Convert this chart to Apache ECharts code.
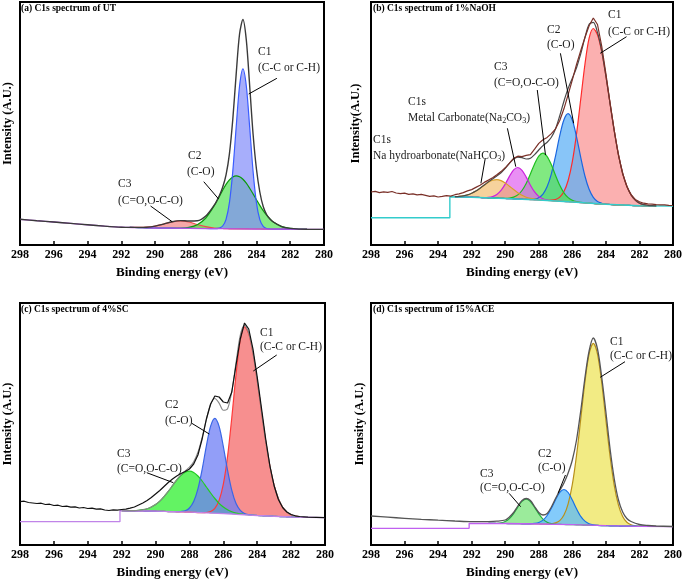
<!DOCTYPE html>
<html><head><meta charset="utf-8">
<script src="https://cdn.jsdelivr.net/npm/echarts@6/dist/echarts.min.js"></script>
<style>html,body{margin:0;padding:0;background:#fff}#c{width:685px;height:583px}</style>
</head><body><div id="c"></div>
<script>
// ---------- shared ----------
const xTicks = [298,296,294,292,290,288,286,284,282,280];

// ---------- Panel (a) UT ----------
const eVGridA = [291.5,291,290.5,290,289.5,289,288.5,288,287.5,287,286.5,286.2,286,285.8,285.6,285.4,285.2,285,284.8,284.6,284.4,284.2,284,283.8,283.6,283.4,283.2,283,282.5,282,281.5,281];
const bgGridA = [17.6,17.4,17.2,17.0,16.9,16.8,16.7,16.6,16.5,16.5,16.4,16.3,16.3,16.3,16.2,16.2,16.2,16.1,16.1,16.1,16.0,16.0,16.0,16.0,15.9,15.9,15.9,15.9,15.8,15.8,15.7,15.7];
const peakA_C1 = [0,0,0,0,0,0,0,0,0,0,0,0.6,2.7,9.4,26.1,57.7,101.7,142.9,160,142.9,101.7,57.7,26.1,9.4,2.7,0.6,0.1,0,0,0,0,0];
const peakA_C2 = [0,0,0,0,0,0,0.2,1.0,3.7,10.5,22.8,32.1,38.5,44.3,48.9,51.9,53,52.1,49.6,45.7,40.7,35.1,29.3,23.6,18.4,13.9,10.2,7.2,2.6,0.8,0.2,0];
const peakA_C3 = [0,0.2,0.6,1.9,4.0,6.4,7.5,6.4,4.0,1.9,0.6,0.3,0.2,0.1,0,0,0,0,0,0,0,0,0,0,0,0,0,0,0,0,0,0];
const bgLineA = [[298,25.7],[297,24.3],[296,23.0],[295,21.6],[294,20.2],[293,18.9],[292,17.8],[291,17.4],[290,17.0],[288,16.6],[286,16.3],[284,16.0],[282,15.8],[280,15.6]];
const envA = [[298,25.7],[297,24.3],[296,23.0],[295,21.6],[294,20.2],[293,18.9],[292,17.8],[291.5,17.6],[291,17.6],[290.5,17.8],[290,18.9],[289.5,20.9],[289,23.2],[288.5,24.4],[288,24.0],[287.5,24.2],[287,28.9],[286.5,39.8],[286.2,49.3],[286,57.7],[285.8,70.1],[285.6,91.2],[285.4,125.8],[285.2,170.9],[285,211],[284.8,225.5],[284.6,205],[284.4,159],[284.2,111],[284,76],[283.8,53],[283.6,38.5],[283.4,30.5],[283.2,26],[283,23],[282.5,18.4],[282,16.6],[281.5,15.9],[281,15.7],[280,15.6]];

// ---------- Panel (b) 1%NaOH ----------
const eVGridB = [293,292.75,292.5,292.25,292,291.75,291.5,291.25,291,290.75,290.5,290.25,290,289.75,289.5,289.25,289,288.75,288.5,288.25,288,287.75,287.5,287.25,287,286.75,286.5,286.25,286,285.75,285.5,285.25,285,284.75,284.5,284.25,284,283.75,283.5,283.25,283,282.75,282.5,282.25,282,281.75,281.5,281.25,281];
const bgGridB = [48.2,48.1,48.0,47.9,47.8,47.6,47.5,47.3,47.2,47.0,46.9,46.7,46.5,46.3,46.2,46.0,45.8,45.6,45.4,45.2,45.0,44.8,44.5,44.3,44.0,43.8,43.5,43.3,43.0,42.7,42.4,42.1,41.8,41.5,41.2,41.0,40.7,40.5,40.2,40.0,39.8,39.7,39.5,39.4,39.3,39.2,39.2,39.1,39.1];
const peakB_NaHCO3 = [0.2,0.6,1.2,2.2,3.9,6.3,9.3,12.5,15.6,17.7,18.5,17.7,15.6,12.5,9.3,6.3,3.9,2.2,1.2,0.6,0.2,0.1,0,0,0,0,0,0,0,0,0,0,0,0,0,0,0,0,0,0,0,0,0,0,0,0,0,0,0];
const peakB_Na2CO3 = [0,0,0,0,0,0,0,0.1,0.4,1.4,3.6,7.9,14.4,22.3,28.9,31.5,28.9,22.3,14.4,7.9,3.6,1.4,0.4,0.1,0,0,0,0,0,0,0,0,0,0,0,0,0,0,0,0,0,0,0,0,0,0,0,0,0];
const peakB_C3 = [0,0,0,0,0,0,0,0,0,0,0,0,0.2,0.6,1.7,4.1,8.7,15.9,25.6,35.9,43.9,47,43.9,35.9,25.6,15.9,8.7,4.1,1.7,0.6,0.2,0,0,0,0,0,0,0,0,0,0,0,0,0,0,0,0,0,0];
const peakB_C2 = [0,0,0,0,0,0,0,0,0,0,0,0,0,0,0,0,0,0,0.2,0.8,2.3,6.1,13.9,26.9,45.2,65.5,81.7,88,81.7,65.5,45.2,26.9,13.9,6.1,2.3,0.8,0.2,0,0,0,0,0,0,0,0,0,0,0,0];
const peakB_C1 = [0,0,0,0,0,0,0,0,0,0,0,0,0,0,0,0,0,0,0,0,0,0,0.1,0.5,1.5,4.1,9.9,21.2,40.4,68.5,103.3,138.4,165.0,175,169.1,152.4,128.1,100.6,73.7,50.3,32.1,19.1,10.6,5.5,2.6,1.2,0.5,0.2,0.1];
const fitB = [48.4,48.7,49.2,50.1,51.7,53.9,56.8,59.9,63.2,66.1,69.0,72.3,76.7,81.7,86.1,87.9,87.3,86.0,86.8,90.4,95.0,99.4,102.8,107.7,116.3,129.3,143.8,156.6,166.8,177.3,191.1,207.4,220.7,222.6,212.6,194.2,169.0,141.1,113.9,90.3,71.9,58.8,50.1,44.9,41.9,40.4,39.7,39.3,39.2];
const bgLineB = [[298,27.3],[293.3,27.3],[293.3,48.3],[292,47.8],[290,46.5],[288,45],[286,43],[284,40.7],[282,39.3],[280,39]];
const rawB = [[298,53],[297.75,53.6],[297.5,52.4],[297.25,53.1],[297,52.6],[296.75,53.5],[296.5,52],[296.25,51.4],[296,51.9],[295.75,50.6],[295.5,51.2],[295.25,50.1],[295,50.6],[294.75,49.7],[294.5,48.6],[294.25,49.2],[294,48],[293.75,48.6],[293.5,49.4],[293.25,48.9],[293,50.3],[292.75,51.2],[292.5,52.4],[292.25,54.1],[292,55.4],[291.75,57.6],[291.5,59.8],[291.25,62.6],[291,64.9],[290.75,67.3],[290.5,70.2],[290.25,73.4],[290,77.2],[289.75,81.8],[289.5,86.6],[289.25,88.8],[289,88.4],[288.75,89.6],[288.5,90.3],[288.25,95.8],[288,101.6],[287.75,105.2],[287.5,107.6],[287.25,111.4],[287,116.2],[286.75,124.5],[286.5,136.2],[286.25,150.4],[286,165.2],[285.75,180.6],[285.5,194.2],[285.25,207.5],[285,219.2],[284.75,227],[284.5,220.5],[284.25,199],[284,171.5],[283.75,142],[283.5,114.5],[283.25,89.6],[283,71],[282.75,58.5],[282.5,50.4],[282.25,45.6],[282,43.2],[281.75,41.8],[281.5,41.2],[281.25,40.9],[281,40.4],[280.75,40.1],[280.5,40.2],[280.25,39.6],[280,39.5]];

// ---------- Panel (c) 4%SC ----------
const eVGridC = [292,291.75,291.5,291.25,291,290.75,290.5,290.25,290,289.75,289.5,289.25,289,288.75,288.5,288.25,288,287.75,287.5,287.25,287,286.75,286.5,286.25,286,285.75,285.5,285.25,285,284.75,284.5,284.25,284,283.75,283.5,283.25,283,282.75,282.5,282.25,282,281.75,281.5];
const bgGridC = [34.3,34.2,34.2,34.1,34.0,34.0,33.9,33.9,33.8,33.7,33.6,33.4,33.3,33.2,33.1,32.9,32.8,32.6,32.4,32.2,32.0,31.8,31.7,31.5,31.3,31.1,30.9,30.6,30.4,30.2,30.0,29.7,29.5,29.3,29.1,28.9,28.7,28.5,28.4,28.2,28.0,27.9,27.8];
const peakC_C3 = [0,0.1,0.2,0.3,0.7,1.3,2.4,4.1,6.7,10.2,14.8,20.2,26.0,31.8,36.6,39.9,41,39.9,36.6,31.8,26.0,20.2,14.8,10.2,6.7,4.1,2.4,1.3,0.7,0.3,0.2,0.1,0,0,0,0,0,0,0,0,0,0,0];
const peakC_C2 = [0,0,0,0,0,0,0,0,0,0,0,0,0,0.1,0.4,1.3,4.2,10.8,23.7,43.5,67.2,87.1,95,87.1,67.2,43.5,23.7,10.8,4.2,1.3,0.4,0.1,0,0,0,0,0,0,0,0,0,0,0];
const peakC_C1 = [0,0,0,0,0,0,0,0,0,0,0,0,0,0,0,0,0,0,0,0.1,0.5,1.7,5.0,13.1,29.5,57.5,96.6,139.9,174.7,188,181.2,162.2,134.8,104.2,74.7,49.8,30.8,17.7,9.4,4.7,2.2,0.9,0.4];
const fitC = [34.3,34.3,34.4,34.4,34.7,35.3,36.3,38.0,40.5,43.9,48.4,53.6,59.3,65.1,70.1,74.1,78.0,83.3,92.7,107.6,125.7,140.8,146.5,141.9,134.7,136.2,153.6,182.6,210.0,219.8,211.8,192.1,164.3,133.5,103.8,78.7,59.5,46.2,37.8,32.9,30.2,28.8,28.2];
const bgLineC = [[298,23.3],[292.1,23.3],[292.1,34.3],[290,33.8],[288,32.8],[286,31.3],[284,29.5],[282,28],[280,27.3]];
const rawC = [[298,43.3],[297.75,43.8],[297.5,42.5],[297.25,42.0],[297,41.5],[296.75,41.8],[296.5,40.5],[296.25,40.8],[296,39.5],[295.75,39.8],[295.5,38.5],[295.25,38.9],[295,37.8],[294.75,38.2],[294.5,37.0],[294.25,37.5],[294,36.5],[293.75,36.8],[293.5,35.8],[293.25,36.2],[293,35.0],[292.75,34.5],[292.5,35.2],[292.25,34.8],[292,35.5],[291.75,35.8],[291.5,36.8],[291.25,38.0],[291,40.0],[290.75,42.0],[290.5,44.5],[290.25,47.5],[290,51],[289.75,54.5],[289.5,58.5],[289.25,62.5],[289,66],[288.75,69],[288.5,71.5],[288.25,73.5],[288,76],[287.75,81],[287.5,90],[287.25,106],[287,126],[286.75,141],[286.5,149],[286.25,148],[286,143],[285.75,142],[285.5,153],[285.25,180],[285,206],[284.75,222],[284.5,216],[284.25,196],[284,168],[283.75,137],[283.5,106],[283.25,79],[283,59],[282.75,45.5],[282.5,37.5],[282.25,33],[282,30.5],[281.75,29.2],[281.5,28.5],[281.25,28.2],[281,27.9],[280.5,27.6],[280,27.3]];

// ---------- Panel (d) 15%ACE ----------
const eVGridD = [291,290.75,290.5,290.25,290,289.75,289.5,289.25,289,288.75,288.5,288.25,288,287.75,287.5,287.25,287,286.75,286.5,286.25,286,285.75,285.5,285.25,285,284.75,284.5,284.25,284,283.75,283.5,283.25,283,282.75,282.5,282.25,282,281.75,281.5];
const bgGridD = [21.6,21.6,21.5,21.5,21.5,21.4,21.3,21.3,21.2,21.2,21.1,21.1,21.0,20.9,20.8,20.7,20.7,20.6,20.5,20.4,20.3,20.2,20.0,19.9,19.8,19.7,19.6,19.4,19.3,19.2,19.1,19.0,18.9,18.9,18.8,18.8,18.7,18.7,18.6];
const peakD_C3 = [0,0,0.2,0.7,2.0,5.0,10.1,16.6,22.4,24.7,22.4,16.6,10.1,5.0,2.0,0.7,0.2,0,0,0,0,0,0,0,0,0,0,0,0,0,0,0,0,0,0,0,0,0,0];
const peakD_C2 = [0,0,0,0,0,0,0,0,0,0,0.1,0.5,1.5,4.0,8.7,16.0,24.7,32.1,35,32.1,24.7,16.0,8.7,4.0,1.5,0.5,0.1,0,0,0,0,0,0,0,0,0,0,0,0];
const peakD_C1 = [0,0,0,0,0,0,0,0,0,0,0,0,0,0,0.1,0.4,1.4,3.8,9.5,20.8,40.3,69.4,105.8,143.1,171.4,182,171.4,143.1,105.8,69.4,40.3,20.8,9.5,3.8,1.4,0.4,0.1,0,0];
const bgLineD = [[298,16.7],[292.15,16.7],[292.15,21.7],[290,21.5],[288,21],[286,20.3],[284,19.3],[282,18.7],[280,18.3]];
const envD = [[298,29],[297,27.8],[296,26.7],[295,25.7],[294,24.8],[293,24],[292,23.3],[291,23.4],[290.5,23.8],[290,25],[289.75,28],[289.5,32.5],[289.25,39],[289,44.5],[288.75,46.5],[288.5,44.5],[288.25,38.5],[288,32.5],[287.75,30],[287.5,31.5],[287.25,38],[287,46.5],[286.75,54.5],[286.5,62],[286.25,72],[286,85],[285.75,105],[285.5,134],[285.25,167],[285,194],[284.75,207],[284.5,196],[284.25,168],[284,133],[283.75,96],[283.5,66],[283.25,45],[283,33],[282.75,26.5],[282.5,23.5],[282,20.5],[281.5,19.5],[281,19],[280,18.5]];

// ---------- layout ----------
const SERIF = 'Liberation Serif';
const panels = [
  {left:19, top:2, width:305, height:243, ymax:243, yname:'Intensity (A.U.)', ygap:6},
  {left:371, top:2, width:304, height:243, ymax:243, yname:'Intensity(A.U.)', ygap:9},
  {left:20, top:303, width:305, height:242, ymax:242, yname:'Intensity (A.U.)', ygap:6},
  {left:371, top:303, width:304, height:242, ymax:242, yname:'Intensity (A.U.)', ygap:5}
];

const grids = panels.map(p => ({left:p.left, top:p.top, width:p.width, height:p.height, show:true, borderColor:'#000', borderWidth:2, backgroundColor:'transparent'}));
const xAxes = panels.map((p,i) => ({
  gridIndex:i, type:'value', min:280, max:298, interval:2, inverse:true,
  axisLine:{show:false},
  axisTick:{show:true, inside:true, length:4, lineStyle:{color:'#000', width:1.5}},
  axisLabel:{color:'#000', fontFamily:SERIF, fontWeight:'bold', fontSize:12, margin:4},
  splitLine:{show:false},
  name:'Binding energy (eV)', nameLocation:'middle', nameGap:21,
  nameTextStyle:{color:'#000', fontFamily:SERIF, fontWeight:'bold', fontSize:13}
}));
const yAxes = panels.map((p,i) => ({
  gridIndex:i, type:'value', min:0, max:p.ymax,
  axisLine:{show:false}, axisTick:{show:false}, axisLabel:{show:false}, splitLine:{show:false},
  name:p.yname, nameLocation:'middle', nameGap:p.ygap,
  nameTextStyle:{color:'#000', fontFamily:SERIF, fontWeight:'bold', fontSize:12.5}
}));

function stackPair(gi, xs, bg, peak, id, lc, fc) {
  return [
    {name:id+'_bg', type:'line', xAxisIndex:gi, yAxisIndex:gi, stack:id, encode:{x:1,y:0},
     data: xs.map((x,i)=>[bg[i], x]), symbol:'none', smooth:0.3,
     lineStyle:{width:0, opacity:0}, silent:true},
    {name:id, type:'line', xAxisIndex:gi, yAxisIndex:gi, stack:id, encode:{x:1,y:0},
     data: xs.map((x,i)=>[peak[i], x]), symbol:'none', smooth:0.3,
     lineStyle:{color:lc, width:1.2}, areaStyle:{color:fc, opacity:1}, silent:true}
  ];
}
function plainLine(gi, data, color, width, smooth, extra) {
  return Object.assign({type:'line', xAxisIndex:gi, yAxisIndex:gi, data:data, symbol:'none',
    smooth:smooth, lineStyle:{color:color, width:width}, silent:true}, extra||{});
}
function leaders(list) {
  return {silent:true, symbol:['none','none'], label:{show:false}, animation:false,
    lineStyle:{color:'#000', width:1, type:'solid'},
    data:list.map(s => [{coord:s[0]},{coord:s[1]}])};
}

const series = [].concat(
  // (a)
  stackPair(0, eVGridA, bgGridA, peakA_C3, 'a3', '#f04848', 'rgba(240,110,110,0.6)'),
  stackPair(0, eVGridA, bgGridA, peakA_C2, 'a2', '#0a9a0a', 'rgba(70,225,70,0.65)'),
  stackPair(0, eVGridA, bgGridA, peakA_C1, 'a1', '#3a5cff', 'rgba(130,140,250,0.7)'),
  [plainLine(0, bgLineA, '#b455e0', 1.3, 0.3, {markLine: leaders([
     [[282.79,166.7],[284.46,151]], [[287.12,63.3],[286.24,46]], [[290.27,39],[288.99,23.3]]])})],
  [plainLine(0, envA, '#3a3a3a', 1.4, 0.3)],
  // (b)
  stackPair(1, eVGridB, bgGridB, peakB_C1, 'b1', '#ff2a2a', 'rgba(250,150,150,0.75)'),
  stackPair(1, eVGridB, bgGridB, peakB_C2, 'b2', '#1a66e0', 'rgba(90,175,245,0.72)'),
  stackPair(1, eVGridB, bgGridB, peakB_C3, 'b3', '#1fbf1f', 'rgba(80,225,80,0.72)'),
  stackPair(1, eVGridB, bgGridB, peakB_Na2CO3, 'b4', '#cc22dd', 'rgba(225,100,240,0.72)'),
  stackPair(1, eVGridB, bgGridB, peakB_NaHCO3, 'b5', '#d8a028', 'rgba(240,180,90,0.6)'),
  [plainLine(1, bgLineB, '#33cccc', 1.4, false, {markLine: leaders([
     [[282.77,208.3],[284.34,191.7]], [[286.71,191.7],[285.92,121.7]], [[288.09,155],[287.6,90]],
     [[289.87,116.7],[289.37,78.3]], [[291.19,86.7],[291.45,61.7]]])})],
  [plainLine(1, eVGridB.map((x,i)=>[x, fitB[i]]), '#4a4a4a', 1.2, 0.3)],
  [plainLine(1, rawB, '#7a3028', 1.2, false)],
  // (c)
  stackPair(2, eVGridC, bgGridC, peakC_C1, 'c1', '#ff3a3a', 'rgba(245,115,115,0.8)'),
  stackPair(2, eVGridC, bgGridC, peakC_C3, 'c3', '#22cc22', 'rgba(60,240,60,0.8)'),
  stackPair(2, eVGridC, bgGridC, peakC_C2, 'c2', '#3a66e6', 'rgba(110,125,245,0.75)'),
  [plainLine(2, bgLineC, '#c084e8', 1.3, false, {markLine: leaders([
     [[282.85,190],[284.23,174]], [[287.86,121.7],[286.83,111]], [[290.52,72.3],[288.95,62.3]]])})],
  [plainLine(2, eVGridC.map((x,i)=>[x, fitC[i]]), '#888888', 1.1, 0.3)],
  [plainLine(2, rawC, '#111111', 1.2, false)],
  // (d)
  stackPair(3, eVGridD, bgGridD, peakD_C1, 'd1', '#b8901a', 'rgba(240,232,110,0.85)'),
  stackPair(3, eVGridD, bgGridD, peakD_C3, 'd3', '#22b040', 'rgba(130,230,130,0.8)'),
  stackPair(3, eVGridD, bgGridD, peakD_C2, 'd2', '#1a72e6', 'rgba(90,185,250,0.75)'),
  [plainLine(3, bgLineD, '#c060f0', 1.3, false, {markLine: leaders([
     [[282.86,183.3],[284.34,167.7]], [[286.41,70],[286.85,51.7]], [[289.77,51.7],[289.08,38.3]]])})],
  [plainLine(3, envD, '#555555', 1.3, 0.3)]
);

// ---------- annotation texts ----------
const FONT = '11.5px "Liberation Serif"';
const texts = [
  // titles
  {x:21, y:9, t:'(a) C1s spectrum of UT', title:true},
  {x:373, y:9, t:'(b) C1s spectrum of 1%NaOH', title:true},
  {x:21, y:310, t:'(c) C1s spectrum of 4%SC', title:true},
  {x:373, y:310, t:'(d) C1s spectrum of 15%ACE', title:true},
  // (a)
  {x:258, y:52, t:'C1'}, {x:258, y:68, t:'(C-C or C-H)'},
  {x:188, y:156, t:'C2'}, {x:187, y:172, t:'(C-O)'},
  {x:118, y:184, t:'C3'}, {x:118, y:201, t:'(C=O,O-C-O)'},
  // (b)
  {x:608, y:15, t:'C1'}, {x:608, y:32, t:'(C-C or C-H)'},
  {x:547, y:30, t:'C2'}, {x:547, y:45, t:'(C-O)'},
  {x:494, y:67, t:'C3'}, {x:494, y:83, t:'(C=O,O-C-O)'},
  {x:408, y:102, t:'C1s'}, {x:408, y:118, rich:'{a|Metal Carbonate(Na}{s|2}{a|CO}{s|3}{a|)}'},
  {x:373, y:140, t:'C1s'}, {x:373, y:156, rich:'{a|Na hydroarbonate(NaHCO}{s|3}{a|)}'},
  // (c)
  {x:260, y:333, t:'C1'}, {x:260, y:347, t:'(C-C or C-H)'},
  {x:165, y:405, t:'C2'}, {x:165, y:421, t:'(C-O)'},
  {x:117, y:454, t:'C3'}, {x:117, y:469, t:'(C=O,O-C-O)'},
  // (d)
  {x:610, y:342, t:'C1'}, {x:610, y:356, t:'(C-C or C-H)'},
  {x:538, y:454, t:'C2'}, {x:538, y:468, t:'(C-O)'},
  {x:480, y:474, t:'C3'}, {x:480, y:488, t:'(C=O,O-C-O)'}
];
const graphic = texts.map(o => {
  if (o.rich) {
    return {type:'text', x:o.x, y:o.y, z:100, silent:true, style:{
      text:o.rich, fill:'#222', verticalAlign:'middle',
      rich:{a:{fontFamily:SERIF, fontSize:11.5, lineHeight:14, fill:'#222'},
            s:{fontFamily:SERIF, fontSize:8, lineHeight:6, verticalAlign:'bottom', fill:'#222'}}}};
  }
  return {type:'text', x:o.x, y:o.y, z:100, silent:true, style:{
    text:o.t, fill:o.title ? '#000' : '#222', verticalAlign:'middle',
    font: o.title ? 'bold 9.5px "Liberation Serif"' : FONT}};
});

const chart = echarts.init(document.getElementById('c'), null, {renderer:'canvas'});
chart.setOption({
  animation:false,
  backgroundColor:'#fff',
  grid:grids, xAxis:xAxes, yAxis:yAxes,
  series:series,
  graphic:graphic
});
</script></body></html>
